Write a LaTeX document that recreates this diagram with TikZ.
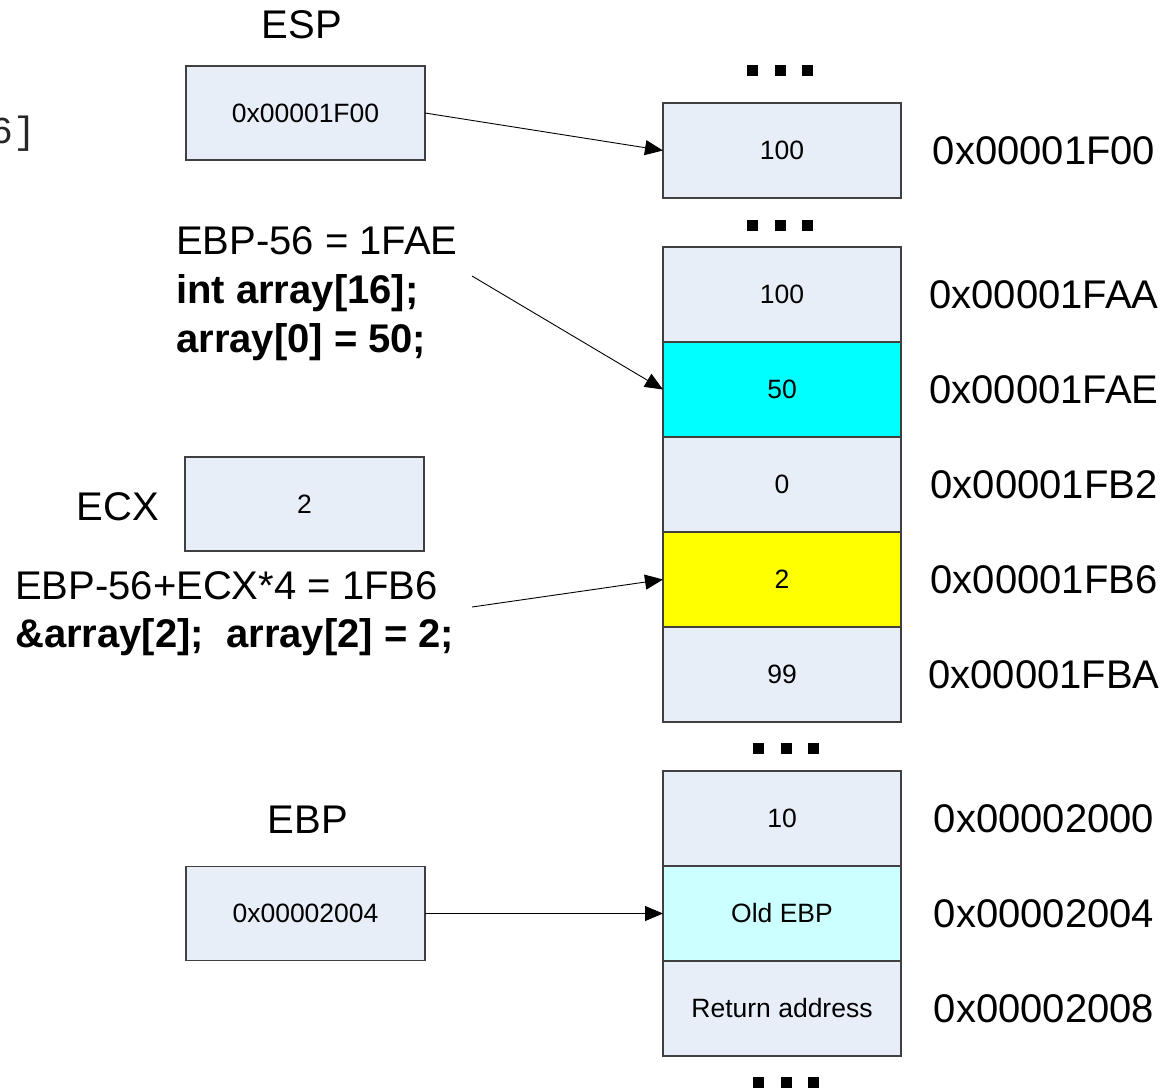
\documentclass[tikz,border=0pt]{standalone}
\usepackage{fontspec}
\setmainfont{Liberation Sans}
\newfontfamily\monofont{Liberation Mono}
\usetikzlibrary{positioning,arrows.meta}
\definecolor{cellblue}{HTML}{E8EEF8}
\definecolor{oldebp}{HTML}{CCFFFF}
\definecolor{hotcell}{HTML}{00FFFF}
\definecolor{ecxcell}{HTML}{FFFF00}
\tikzset{
  cell/.style={draw=black!75, line width=1.2pt, fill=cellblue,
    minimum width=238pt, minimum height=95pt, inner sep=0pt, outer sep=0pt,
    font=\fontsize{26.5}{30}\selectfont},
  reg/.style={cell, minimum width=239pt, minimum height=94pt},
  addr/.style={font=\fontsize{40}{46}\selectfont, inner sep=0pt},
  big/.style={font=\fontsize{40}{46}\selectfont, inner sep=0pt},
  pointer/.style={-{Triangle[length=18pt,width=15pt]}, line width=0.9pt}
}
\begin{document}
\begin{tikzpicture}[x=1pt,y=-1pt]
\useasboundingbox (0,0) rectangle (1172,1087);
\newcommand{\dotsz}{11}
\newcommand{\addrx}{262pt}
% partly hidden text at the left edge
\node[anchor=east, inner sep=0pt, font=\monofont\fontsize{38}{40}\selectfont, text=black!85] at (37,134) {6\hspace{1pt}]};
% stack cells
\node[cell] (top) at (782,150.5) {100};
\node[cell] (c1) at (782,294.5) {100};
\node[cell, fill=hotcell, below=0pt of c1] (c2) {50};
\node[cell, below=0pt of c2] (c3) {0};
\node[cell, fill=ecxcell, below=0pt of c3] (c4) {2};
\node[cell, below=0pt of c4] (c5) {99};
\node[cell] (f1) at (782,818.5) {10};
\node[cell, fill=oldebp, below=0pt of f1] (f2) {Old EBP};
\node[cell, below=0pt of f2] (f3) {Return address};
% ellipsis marks
\foreach \x/\y in {752/70, 752/225, 758/748, 758/1082}
  \foreach \dx in {0,28,55}
    \fill ({\x+\dx-\dotsz/2},{\y-\dotsz/2}) rectangle ++(\dotsz,\dotsz);
% addresses
\node[addr, xshift=\addrx] at (top) {0x00001F00};
\node[addr, xshift=\addrx] at (c1) {0x00001FAA};
\node[addr, xshift=\addrx] at (c2) {0x00001FAE};
\node[addr, xshift=\addrx] at (c3) {0x00001FB2};
\node[addr, xshift=\addrx] at (c4) {0x00001FB6};
\node[addr, xshift=\addrx] at (c5) {0x00001FBA};
\node[addr, xshift=\addrx] at (f1) {0x00002000};
\node[addr, xshift=\addrx] at (f2) {0x00002004};
\node[addr, xshift=\addrx] at (f3) {0x00002008};
% registers
\node[reg] (esp) at (305.5,113) {0x00001F00};
\node[big] at (302,25) {ESP};
\node[reg] (ecx) at (304.5,504) {2};
\node[big] at (118,507) {ECX};
\node[reg] (ebp) at (305.5,913.5) {0x00002004};
\node[big] at (308,820) {EBP};
% annotations
\node[big, anchor=west, align=left, font=\fontsize{40}{49}\selectfont] (note1) at (176,294)
  {EBP-56 = 1FAE\\\textbf{int array[16];}\\\textbf{array[0] = 50;}};
\node[big, anchor=west, align=left, font=\fontsize{40}{48}\selectfont] (note2) at (15,614)
  {EBP-56+ECX*4 = 1FB6\\\textbf{\&array[2];\ \ array[2] = 2;}};
\coordinate (n1) at (472,276);
\coordinate (n2) at (472,607);
% pointers
\draw[pointer] (esp.east) -- (top.west);
\draw[pointer] (n1) -- (c2.west);
\draw[pointer] (n2) -- (c4.west);
\draw[pointer] (ebp.east) -- (f2.west);
\end{tikzpicture}
\end{document}
